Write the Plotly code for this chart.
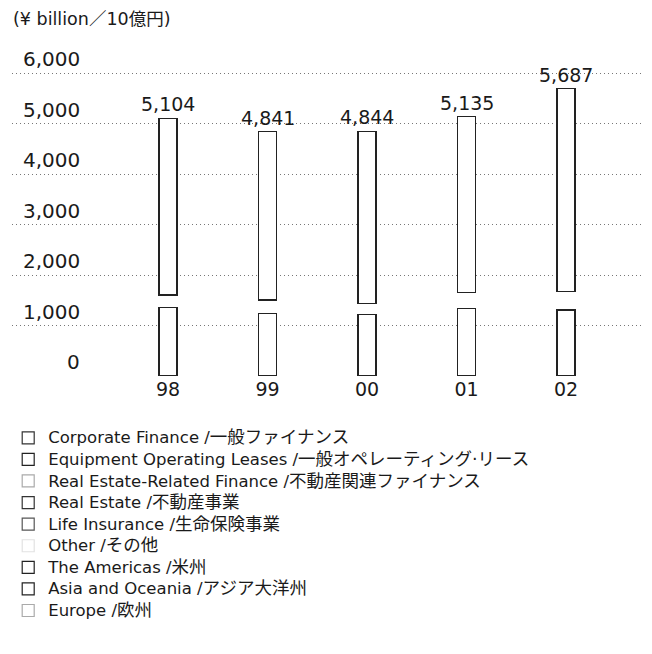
import numpy as np
import plotly.graph_objects as go

years = ["98", "99", "00", "01", "02"]

# Segment assets (¥ billion)
corporate_finance = [2000, 1860, 1880, 1905, 2160]
equipment_operating_leases = [250, 255, 270, 280, 300]
real_estate_related_finance = [400, 390, 380, 360, 410]
real_estate = [180, 176, 190, 220, 280]
life_insurance = [670, 655, 684, 720, 867]
other = [244, 264, 218, 310, 363]
the_americas = [742, 688, 705, 812, 806]
asia_oceania = [478, 431, 407, 418, 404]
europe = [140, 122, 110, 110, 97]

y_ticks = [0, 1000, 2000, 3000, 4000, 5000, 6000]

labels_en = {
    "cf": "Corporate Finance /", "eol": "Equipment Operating Leases /",
    "rerf": "Real Estate-Related Finance /", "re": "Real Estate /",
    "li": "Life Insurance /", "oth": "Other /", "am": "The Americas /",
    "as": "Asia and Oceania /", "eu": "Europe /",
}
labels_ja = {
    "cf": "一般ファイナンス", "eol": "一般オペレーティング·リース",
    "rerf": "不動産関連ファイナンス", "re": "不動産事業", "li": "生命保険事業",
    "oth": "その他", "am": "米州", "as": "アジア大洋州", "eu": "欧州",
}
names = {k: f"<span style='font-size:16.5px'>{labels_en[k]}</span>"
            f"<span style='font-size:17.5px'>{labels_ja[k]}</span>" for k in labels_en}
swatch = {
    "cf": "#333333", "eol": "#222222", "rerf": "#aaaaaa", "re": "#333333",
    "li": "#555555", "oth": "#e2e2e2", "am": "#222222", "as": "#222222",
    "eu": "#aaaaaa",
}
series = {
    "cf": corporate_finance, "eol": equipment_operating_leases,
    "rerf": real_estate_related_finance, "re": real_estate,
    "li": life_insurance, "oth": other, "am": the_americas,
    "as": asia_oceania, "eu": europe,
}

x = np.arange(len(years))
W = 0.18
FONT = "DejaVu Sans, Noto Sans CJK JP, sans-serif"

fig = go.Figure()

# stacked data bars (bottom -> top), white fill as in the faded print
stack_order = ["am", "as", "eu", "oth", "li", "re", "rerf", "eol", "cf"]
for k in stack_order:
    fig.add_trace(go.Bar(
        x=x, y=series[k], width=W, name=labels_en[k] + labels_ja[k], legendgroup=k,
        showlegend=False, marker=dict(color="white", line=dict(width=0)),
    ))

overseas = np.array(the_americas) + np.array(asia_oceania) + np.array(europe)
domestic = (np.array(corporate_finance) + np.array(equipment_operating_leases)
            + np.array(real_estate_related_finance) + np.array(real_estate)
            + np.array(life_insurance))
totals = overseas + np.array(other) + domestic

# outlines of the two visible blocks
fig.add_trace(go.Bar(
    x=x, y=overseas, base=[0] * len(x), width=W, showlegend=False, hoverinfo="skip",
    marker=dict(color="rgba(0,0,0,0)", line=dict(color="#222222", width=1.3)),
))
fig.add_trace(go.Bar(
    x=x, y=domestic, base=overseas + np.array(other), width=W, showlegend=False,
    hoverinfo="skip",
    marker=dict(color="rgba(0,0,0,0)", line=dict(color="#222222", width=1.3)),
))

# legend entries
legend_order = ["cf", "eol", "rerf", "re", "li", "oth", "am", "as", "eu"]
for k in legend_order:
    fig.add_trace(go.Bar(
        x=[None], y=[None], name=names[k], legendgroup=k, showlegend=True,
        marker=dict(color="white", line=dict(color=swatch[k], width=1.2)),
    ))

annotations = []
for yv in y_ticks:
    annotations.append(dict(
        x=0.1106, xref="paper", y=yv, yref="y", yshift=14, text=f"{yv:,}",
        showarrow=False, xanchor="right", yanchor="middle",
        font=dict(family=FONT, size=20, color="#1a1a1a"),
    ))
for xi, tv in zip(x, totals):
    annotations.append(dict(
        x=xi, xref="x", y=tv, yref="y", yshift=14, text=f"{int(tv):,}",
        showarrow=False, xanchor="center", yanchor="middle",
        font=dict(family=FONT, size=19, color="#1a1a1a"),
    ))
annotations.append(dict(
    x=0.0, xref="paper", y=1.2105, yref="paper", borderpad=0,
    text="(¥ billion／10億円)",
    showarrow=False, xanchor="left", yanchor="top",
    font=dict(family=FONT, size=17.5, color="#1a1a1a"),
))

fig.update_layout(
    width=644, height=646,
    margin=dict(l=4, r=7, t=64, b=278, autoexpand=False),
    paper_bgcolor="white", plot_bgcolor="white",
    barmode="stack",
    showlegend=True,
    legend=dict(
        x=-0.006, xanchor="left", y=-0.1513, yanchor="top",
        traceorder="normal", font=dict(family=FONT, size=14.3, color="#1a1a1a"),
        bgcolor="rgba(0,0,0,0)",
    ),
    xaxis=dict(
        range=[-1.568, 4.794], tickvals=list(x), ticktext=years,
        showgrid=False, zeroline=False, showline=False, ticks="",
        tickfont=dict(family=FONT, size=19, color="#1a1a1a"),
    ),
    yaxis=dict(
        range=[0, 6020], tickvals=y_ticks[1:], showticklabels=False,
        showgrid=True, gridcolor="#777777", gridwidth=1, griddash="1px,3px",
        zeroline=False, showline=False, ticks="",
    ),
    annotations=annotations,
)

fig.write_html("out.html")
